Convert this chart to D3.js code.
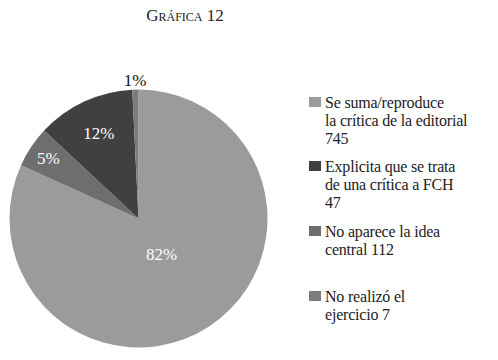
<!DOCTYPE html>
<html><head><meta charset="utf-8">
<script src="https://cdn.jsdelivr.net/npm/d3@7"></script>
<style>
body{margin:0;background:#fff}svg{display:block}
</style>
</head><body>
<svg id="c" width="498" height="360"></svg>
<script>
const title = "Gráfica 12";
const categories = [
  ["Se suma/reproduce", "la crítica de la editorial", "745"],
  ["Explicita que se trata", "de una crítica a FCH", "47"],
  ["No aparece la idea", "central 112"],
  ["No realizó el", "ejercicio 7"]
];
const values = [745, 47, 112, 7];
const sliceColors = ["#9b9b9b", "#6e6e6e", "#404040", "#7c7c7c"];
const legendColors = ["#9b9b9b", "#404040", "#6e6e6e", "#7c7c7c"];

const svg = d3.select("#c");
const ff = "'Times New Roman', Tinos, 'Liberation Serif', 'DejaVu Serif', serif";

svg.append("text").attr("x", 185).attr("y", 21).attr("text-anchor", "middle")
  .style("font-family", ff).attr("font-size", 17).attr("fill", "#222")
  .style("font-variant", "small-caps").text(title);

const cx = 138.5, cy = 218.5, r = 129;
const total = d3.sum(values);
const pie = d3.pie().sort(null).value(d => d)(values);
const arc = d3.arc().innerRadius(0).outerRadius(r);
const g = svg.append("g").attr("transform", `translate(${cx},${cy})`);
g.selectAll("path").data(pie).join("path")
  .attr("d", arc).attr("fill", (d, i) => sliceColors[i]);

const labelR = [0.33, 0.84, 0.73, 1.07];
const labelFill = ["#fff", "#fff", "#fff", "#111"];
g.selectAll("text.lab").data(pie).join("text").attr("class", "lab")
  .each(function(d, i) {
    const a = (d.startAngle + d.endAngle) / 2;
    const rr = r * labelR[i];
    d3.select(this).attr("x", Math.sin(a) * rr).attr("y", -Math.cos(a) * rr)
      .attr("dy", "0.35em");
  })
  .attr("text-anchor", "middle").style("font-family", ff).attr("font-size", 17)
  .attr("fill", (d, i) => labelFill[i])
  .text(d => Math.round(d.data / total * 100) + "%");

const legendTop = [108, 172, 237, 302];
const lg = svg.append("g");
categories.forEach((lines, i) => {
  const y0 = legendTop[i];
  lg.append("rect").attr("x", 309).attr("y", y0 - 11).attr("width", 12).attr("height", 10)
    .attr("fill", legendColors[i]);
  const t = lg.append("text").style("font-family", ff).attr("font-size", 16)
    .attr("letter-spacing", -0.2).attr("fill", "#222");
  lines.forEach((ln, j) => {
    t.append("tspan").attr("x", 325).attr("y", y0 + j * 17.8).text(ln);
  });
});
</script>
</body></html>
